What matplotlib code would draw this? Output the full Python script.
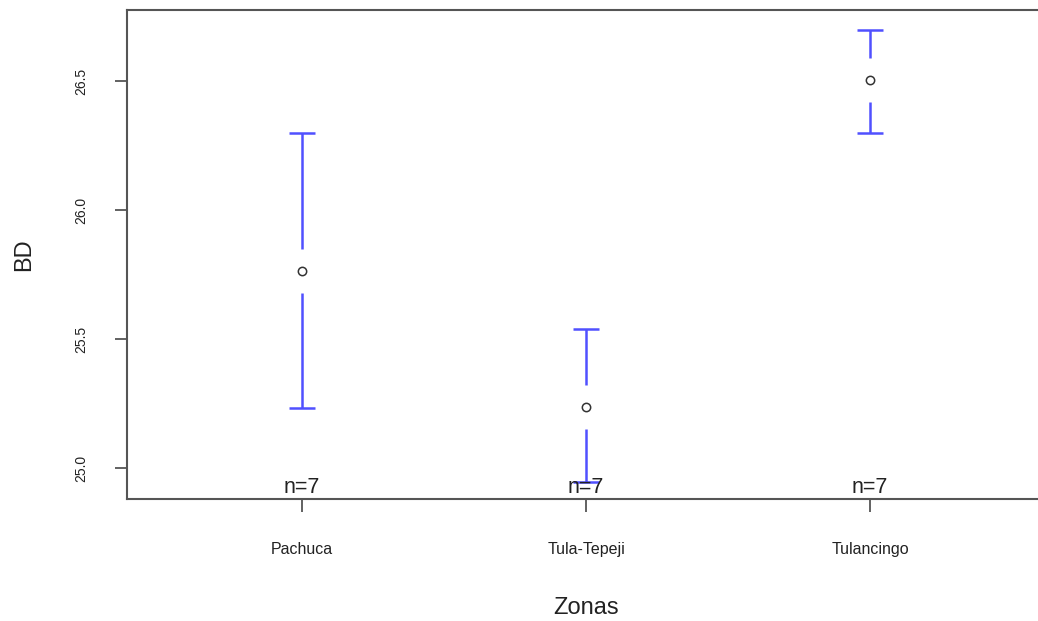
import matplotlib.pyplot as plt
import numpy as np

plt.rcParams['font.family'] = ['Liberation Sans', 'DejaVu Sans']

# Data
zonas = ['Pachuca', 'Tula-Tepeji', 'Tulancingo']
medias = [25.765, 25.236, 26.503]
superior = [26.298, 25.538, 26.698]
inferior = [25.233, 24.946, 26.300]
n_obs = [7, 7, 7]
yticks = [25.0, 25.5, 26.0, 26.5]

fig = plt.figure(figsize=(10.38, 6.21), dpi=100)
ax = fig.add_axes([127 / 1038, 1 - 499 / 621, (1045 - 127) / 1038, (499 - 10) / 621])

x = np.arange(1, len(zonas) + 1)
azul = '#5050ff'
gap = 0.085  # gap around the mean, like plotmeans

for xi, m, hi, lo in zip(x, medias, superior, inferior):
    ax.vlines(xi, m + gap, hi, color=azul, lw=1.8)
    ax.vlines(xi, lo, m - gap, color=azul, lw=1.8)
    ax.hlines([hi, lo], xi - 0.045, xi + 0.045, color=azul, lw=1.8)

ax.plot(x, medias, 'o', mfc='none', mec='#333333', ms=6, mew=1.1, ls='none')

for xi, n in zip(x, n_obs):
    ax.text(xi, 24.885, f'n={n}', ha='center', va='bottom', fontsize=15.5, color='#222222')

ax.set_xlim(0.384, 3.616)
ax.set_ylim(24.880, 26.775)
ax.set_xticks(x)
ax.set_xticklabels(zonas, fontsize=11.5, color='#222222')
ax.set_yticks(yticks)
ax.set_yticklabels([f'{t:.1f}' for t in yticks], rotation=90, va='center',
                   fontsize=10, color='#222222')

ax.tick_params(axis='both', length=9, width=1.3, color='#555555', direction='out')
ax.tick_params(axis='x', pad=22)
ax.tick_params(axis='y', pad=19)

for s in ax.spines.values():
    s.set_color('#555555')
    s.set_linewidth(1.5)
ax.spines['right'].set_visible(False)

ax.set_ylabel('BD', fontsize=17, labelpad=28, color='#222222')
ax.set_xlabel('Zonas', fontsize=17, labelpad=29, color='#222222')

fig.savefig('out.png', dpi=100)
